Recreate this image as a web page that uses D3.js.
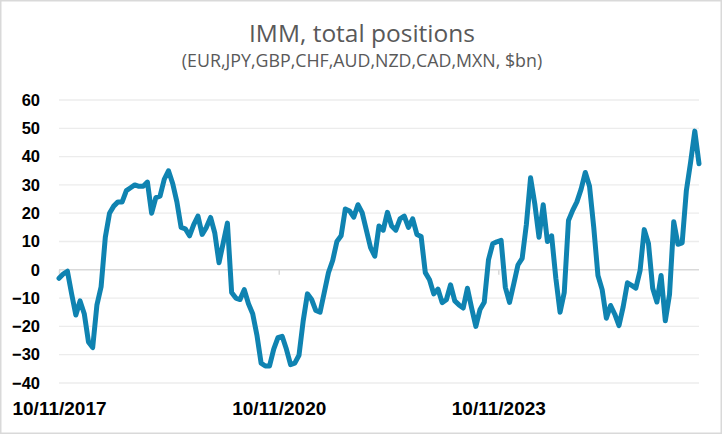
<!DOCTYPE html>
<html>
<head>
<meta charset="utf-8">
<script src="https://cdn.jsdelivr.net/npm/d3@7"></script>
<style>
  html, body { margin: 0; padding: 0; background: #fff; }
</style>
</head>
<body>
<div id="chart"></div>
<script>
(function() {
  // data: IMM total positions, $bn, one reading every 3 weeks
  var startDate = '2017-11-10',
      stepDays = 21;

  var positions = [
    -3, -1.5, -0.5, -8.5, -16, -11, -15.5, -25.5, -27.5, -12.5,
    -6, 11.5, 20, 22.5, 24, 24, 28, 29, 30, 29.5,
    29.5, 31, 20, 25.5, 26, 32, 35, 30.5, 24, 15,
    14.5, 12, 16, 19, 12.5, 15, 18.5, 13, 2.5, 9.5,
    16.5, -8, -10, -10.5, -7, -12, -15.5, -23, -33, -34,
    -34, -28, -24, -23.5, -28, -33.5, -33, -30.2, -18, -8.5,
    -10.5, -14.4, -15, -8, -1, 3.3, 10, 12, 21.5, 20.8,
    18.6, 23, 20.2, 14, 7.8, 4.8, 15.5, 14, 20.3, 15.5,
    14, 18, 19, 15, 18, 12.5, 11.8, -1, -3.5, -8.5,
    -6.8, -11.6, -10.6, -5.3, -11, -12.4, -13.5, -6.5, -13.5, -20,
    -14, -11.5, 3.5, 9.2, 9.9, 10.4, -6.2, -11.5, -5, 1.7,
    4, 16, 32.5, 23.3, 11.5, 23, 10, 12, -3, -15,
    -8, 17.4, 21, 24, 28.5, 34.4, 29.5, 15, -2, -7,
    -17.1, -12.6, -15.7, -19.7, -13, -4.6, -5.5, -6.5, -0.3, 14.2,
    9.3, -6.5, -11.4, -2, -18, -8.7, 17, 9, 9.5, 28,
    38, 49, 37.5
  ];

  var yTicks = [-40, -30, -20, -10, 0, 10, 20, 30, 40, 50, 60],
      xTickDates = ['2017-11-10', '2020-11-10', '2023-11-10'];

  var title = 'IMM, total positions',
      subtitle = '(EUR,JPY,GBP,CHF,AUD,NZD,CAD,MXN, $bn)';

  // layout
  var width = 722,
      height = 434,
      left = 59, right = 699,
      top = 100, bottom = 383;

  var parse = d3.timeParse('%Y-%m-%d'),
      t0 = parse(startDate);

  var data = positions.map(function(v, i) {
    return { date: d3.timeDay.offset(t0, i * stepDays), value: v };
  });

  var x = d3.scaleTime()
    .domain(d3.extent(data, function(d) { return d.date; }))
    .range([left, right]);

  var y = d3.scaleLinear()
    .domain([-40, 60])
    .range([bottom, top]);

  var svg = d3.select('#chart').append('svg')
    .attr('width', width)
    .attr('height', height);

  svg.append('rect')
    .attr('x', 0.75).attr('y', 0.75)
    .attr('width', width - 1.5).attr('height', height - 1.5)
    .attr('fill', '#fff')
    .attr('stroke', '#d9d9d9')
    .attr('stroke-width', 1.5);

  // titles
  svg.append('text')
    .attr('x', width / 2 + 1)
    .attr('y', 42)
    .attr('text-anchor', 'middle')
    .attr('font-family', 'Open Sans, sans-serif')
    .attr('font-size', 24.5)
    .attr('fill', '#595959')
    .text(title);

  svg.append('text')
    .attr('x', width / 2 + 1)
    .attr('y', 67)
    .attr('text-anchor', 'middle')
    .attr('font-family', 'Open Sans, sans-serif')
    .attr('font-size', 17.8)
    .attr('fill', '#595959')
    .text(subtitle);

  // gridlines
  svg.append('g')
    .selectAll('line')
    .data(yTicks.filter(function(t) { return t !== 0; }))
    .join('line')
      .attr('x1', left).attr('x2', right)
      .attr('y1', function(d) { return y(d); })
      .attr('y2', function(d) { return y(d); })
      .attr('stroke', '#ececec')
      .attr('stroke-width', 1.3);

  // y axis labels
  var yAxis = svg.append('g')
    .attr('transform', 'translate(' + (left - 19) + ',0)')
    .call(d3.axisLeft(y).tickValues(yTicks).tickSize(0).tickPadding(0));
  yAxis.select('.domain').remove();
  yAxis.selectAll('text')
    .attr('font-family', 'Liberation Sans, Arial, sans-serif')
    .attr('font-weight', 'bold')
    .attr('font-size', 16.5)
    .attr('fill', '#000');

  // x axis sits on zero
  var xAxis = svg.append('g')
    .attr('transform', 'translate(0,' + y(0) + ')')
    .call(d3.axisBottom(x)
      .tickValues(xTickDates.map(parse))
      .tickSize(5)
      .tickFormat(d3.timeFormat('%d/%m/%Y')));
  xAxis.select('.domain')
    .attr('d', 'M' + left + ',0H' + right)
    .attr('stroke', '#d9d9d9')
    .attr('stroke-width', 1.6);
  xAxis.selectAll('.tick line')
    .attr('stroke', '#d9d9d9')
    .attr('stroke-width', 1.5);
  xAxis.selectAll('text')
    .attr('y', 0)
    .attr('dy', 0)
    .attr('transform', 'translate(0,' + (415 - y(0)) + ')')
    .attr('font-family', 'Liberation Sans, Arial, sans-serif')
    .attr('font-weight', 'bold')
    .attr('font-size', 19)
    .attr('fill', '#000');

  // series
  var line = d3.line()
    .x(function(d) { return x(d.date); })
    .y(function(d) { return y(d.value); });

  svg.append('path')
    .datum(data)
    .attr('d', line)
    .attr('fill', 'none')
    .attr('stroke', '#0f83b1')
    .attr('stroke-width', 5)
    .attr('stroke-linejoin', 'round')
    .attr('stroke-linecap', 'round');
})();
</script>
</body>
</html>
